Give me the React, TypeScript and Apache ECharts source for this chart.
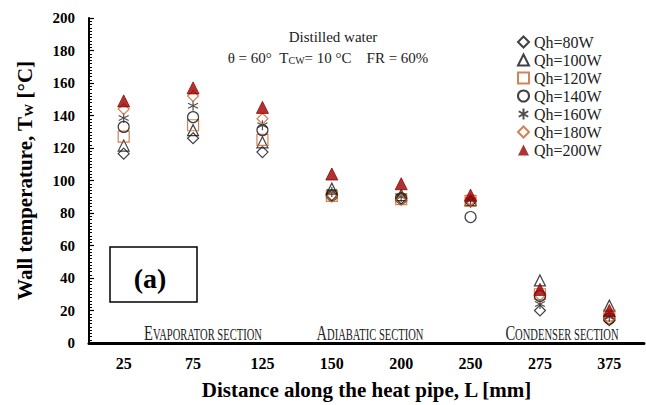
import React, { useEffect, useRef } from "react";
import * as echarts from "echarts";

// Axial positions along the heat pipe (mm)
const categories = ["25", "75", "125", "150", "200", "250", "275", "375"];

// Wall temperature (°C) for each heat input
const q80 = [116.5, 126, 117.5, 91, 89, 87, 20, 14];
const q100 = [121.5, 131, 123.5, 95, 91, 88, 38.5, 23];
const q120 = [127, 134, 125, 90.5, 88.5, 87.5, 30, 17];
const q140 = [133, 139, 131, 91, 89, 77.5, 29, 15];
const q160 = [138.5, 146, 134, 93, 90, 88, 24, 16];
const q180 = [144, 152, 138, 90, 88, 88, 29.5, 15];
const q200 = [149, 157, 145, 104, 98, 91, 33, 20];

const seriesNames = ["Qh=80W", "Qh=100W", "Qh=120W", "Qh=140W", "Qh=160W", "Qh=180W", "Qh=200W"];

const SERIF = "'Liberation Serif', 'Times New Roman', serif";
const BROWN = "#c8642d";
const DARKRED = "#9a0000";
const ASTERISK = "path://M5,0L5,10M0.7,2.5L9.3,7.5M0.7,7.5L9.3,2.5";

const hollow = (color: string) => ({ color: "transparent", borderColor: color, borderWidth: 1.2 });

function sectionLabel(x: number, first: string, rest: string) {
  return {
    type: "text",
    x,
    y: 343,
    scaleX: 0.66,
    style: {
      text: `{b|${first}}{s|${rest}}`,
      align: "center",
      verticalAlign: "bottom",
      rich: {
        b: { fontFamily: SERIF, fontSize: 22, fill: "#222", verticalAlign: "bottom", lineHeight: 22 },
        s: { fontFamily: SERIF, fontSize: 16, fill: "#222", verticalAlign: "bottom", lineHeight: 22 },
      },
    },
  };
}

export default function App() {
  const ref = useRef<HTMLDivElement>(null);

  useEffect(() => {
    if (!ref.current) return;
    const chart = echarts.init(ref.current, undefined, { renderer: "svg" });

    const mk = (name: string, data: number[], symbol: string, size: number, itemStyle: any) => ({
      name,
      type: "scatter",
      data,
      symbol,
      symbolSize: size,
      itemStyle,
      emphasis: { disabled: true },
    });

    chart.setOption({
      animation: false,
      backgroundColor: "#fff",
      grid: { left: 89, right: 2, top: 18, bottom: 59 },
      xAxis: {
        type: "category",
        data: categories,
        boundaryGap: true,
        name: "Distance along the heat pipe, L [mm]",
        nameLocation: "middle",
        nameGap: 36,
        nameTextStyle: { fontFamily: SERIF, fontSize: 21, fontWeight: "bold", color: "#000" },
        axisLine: { lineStyle: { color: "#000", width: 3 } },
        axisTick: { show: false },
        axisLabel: { fontFamily: SERIF, fontSize: 16, fontWeight: "bold", color: "#000", margin: 12 },
        splitLine: { show: false },
      },
      yAxis: {
        type: "value",
        min: 0,
        max: 200,
        interval: 20,
        name: "{a|Wall temperature, T}{sub|W}{a| [°C]}",
        nameLocation: "middle",
        nameRotate: 90,
        nameGap: 54,
        nameTextStyle: {
          rich: {
            a: { fontFamily: SERIF, fontSize: 21, fontWeight: "bold", color: "#000", lineHeight: 22, verticalAlign: "bottom" },
            sub: { fontFamily: SERIF, fontSize: 13, fontWeight: "bold", color: "#000", lineHeight: 15, verticalAlign: "bottom" },
          },
        },
        axisLine: { show: true, lineStyle: { color: "#000", width: 2 } },
        axisTick: { show: true, inside: true, length: 5, lineStyle: { color: "#000", width: 1.2 } },
        minorTick: { show: true, splitNumber: 10, length: 3, lineStyle: { color: "#000", width: 1 } },
        axisLabel: { fontFamily: SERIF, fontSize: 15, fontWeight: "bold", color: "#000", margin: 14 },
        splitLine: { show: false },
      },
      legend: {
        orient: "vertical",
        left: 512,
        top: 29,
        itemWidth: 11,
        itemHeight: 11,
        itemGap: 2,
        data: seriesNames,
        textStyle: { fontFamily: SERIF, fontSize: 16, color: "#222", lineHeight: 16 },
      },
      series: [
        mk(seriesNames[0], q80, "diamond", 11, hollow("#111")),
        mk(seriesNames[1], q100, "triangle", 11, hollow("#111")),
        mk(seriesNames[2], q120, "rect", 11, hollow(BROWN)),
        mk(seriesNames[3], q140, "circle", 11, hollow("#111")),
        mk(seriesNames[4], q160, ASTERISK, 10, hollow("#222")),
        mk(seriesNames[5], q180, "diamond", 11, hollow(BROWN)),
        mk(seriesNames[6], q200, "triangle", 12, { color: DARKRED, borderColor: DARKRED }),
      ],
      graphic: [
        {
          type: "text",
          x: 333,
          y: 37,
          style: {
            text: "Distilled water",
            align: "center",
            verticalAlign: "middle",
            font: `15px ${SERIF}`,
            fill: "#222",
          },
        },
        {
          type: "text",
          x: 328,
          y: 56,
          style: {
            text: "{m|θ = 60°  T}{s|CW}{m|= 10 °C    FR = 60%}",
            align: "center",
            verticalAlign: "middle",
            rich: {
              m: { fontFamily: SERIF, fontSize: 15, fill: "#222", lineHeight: 18, verticalAlign: "bottom" },
              s: { fontFamily: SERIF, fontSize: 10, fill: "#222", lineHeight: 12, verticalAlign: "bottom" },
            },
          },
        },
        {
          type: "rect",
          shape: { x: 110, y: 247, width: 87, height: 55 },
          style: { fill: "#fff", stroke: "#000", lineWidth: 1.5 },
        },
        {
          type: "text",
          x: 150,
          y: 278,
          style: {
            text: "(a)",
            align: "center",
            verticalAlign: "middle",
            font: `bold 28px ${SERIF}`,
            fill: "#000",
          },
        },
        sectionLabel(203, "E", "VAPORATOR SECTION"),
        sectionLabel(370, "A", "DIABATIC SECTION"),
        sectionLabel(562, "C", "ONDENSER SECTION"),
      ],
    });

    return () => chart.dispose();
  }, []);

  return (
    <div
      ref={ref}
      style={{ position: "fixed", left: 0, top: 0, width: 646, height: 405, background: "#fff" }}
    />
  );
}
